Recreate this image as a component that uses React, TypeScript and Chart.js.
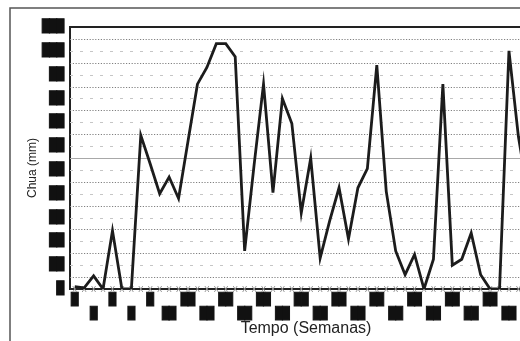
import React, { useEffect, useRef } from 'react';
import { Chart, registerables } from 'chart.js';

Chart.register(...registerables);

// Weeks (categories)
const weeks = [
  '1', '2', '3', '4', '5', '6', '7', '8', '9', '10',
  '11', '12', '13', '14', '15', '16', '17', '18', '19', '20',
  '21', '22', '23', '24', '25', '26', '27', '28', '29', '30',
  '31', '32', '33', '34', '35', '36', '37', '38', '39', '40',
  '41', '42', '43', '44', '45', '46', '47', '48', '49', '50',
];

// Rainfall (mm) per week
const rainfall = [
  1, 0.5, 5.5, 0, 24.5, 0, 0, 64.5, 52.5, 40,
  47, 38, 62, 86, 93, 103, 103, 97.5, 16, 52,
  86, 40.5, 80, 69.5, 32, 55, 13, 28.5, 42.5, 21,
  42.5, 50.5, 94, 41, 16, 6, 14.5, 0, 12.5, 86,
  10, 12.5, 23.5, 6, 0, 0, 100, 64, 40, 20,
];

// y tick values (labels are redacted as black boxes in the picture)
const yMin = 0;
const yMax = 110;
const yStep = 10;
const gridStep = 5;
const refLine = 55;

const xTitle = 'Tempo (Semanas)';
const yTitle = 'Chua (mm)';

const BLOCK = '\u2588';

const decor = {
  id: 'decor',
  beforeDatasetsDraw(chart: any) {
    const { ctx, chartArea: a, scales } = chart;
    const x = scales.x;
    const y = scales.y;
    ctx.save();
    for (let v = yMin + gridStep; v < yMax; v += gridStep) {
      const py = Math.round(y.getPixelForValue(v)) + 0.5;
      ctx.beginPath();
      if (v === refLine) {
        ctx.setLineDash([]);
        ctx.strokeStyle = '#a8a8a8';
      } else if (v % 10 === 5) {
        ctx.setLineDash([1.2, 1.6]);
        ctx.strokeStyle = '#808080';
      } else {
        ctx.setLineDash([3, 7]);
        ctx.strokeStyle = '#c6c6c6';
      }
      ctx.lineWidth = 1;
      ctx.moveTo(a.left, py);
      ctx.lineTo(a.right, py);
      ctx.stroke();
    }
    ctx.setLineDash([]);
    ctx.strokeStyle = '#9a9a9a';
    ctx.lineWidth = 1;
    for (let i = 0; i < weeks.length; i++) {
      const px = x.getPixelForValue(i);
      const py = a.bottom;
      ctx.beginPath();
      ctx.moveTo(px - 2, py - 3);
      ctx.lineTo(px + 2, py + 3);
      ctx.moveTo(px + 2, py - 3);
      ctx.lineTo(px - 2, py + 3);
      ctx.stroke();
    }
    ctx.restore();
  },
  afterDraw(chart: any) {
    const { ctx, chartArea: a, width, height } = chart;
    ctx.save();
    // top border of plot
    ctx.strokeStyle = '#222';
    ctx.lineWidth = 2;
    ctx.beginPath();
    ctx.moveTo(a.left - 1, a.top);
    ctx.lineTo(a.right, a.top);
    ctx.stroke();
    // outer frame
    ctx.strokeStyle = '#555';
    ctx.lineWidth = 1.5;
    ctx.beginPath();
    ctx.moveTo(10, height);
    ctx.lineTo(10, 8);
    ctx.lineTo(width, 8);
    ctx.stroke();
    // titles
    ctx.fillStyle = '#222';
    ctx.textAlign = 'center';
    ctx.textBaseline = 'middle';
    ctx.font = '16px "Liberation Sans", Arial, sans-serif';
    ctx.fillText(xTitle, (a.left + a.right) / 2, 329);
    ctx.translate(33, (a.top + a.bottom) / 2 + 10);
    ctx.rotate(-Math.PI / 2);
    ctx.font = '12px "Liberation Sans", Arial, sans-serif';
    ctx.fillText(yTitle, 0, 0);
    ctx.restore();
  },
};

export default function App() {
  const ref = useRef<HTMLCanvasElement | null>(null);
  useEffect(() => {
    if (!ref.current) return;
    const chart = new Chart(ref.current, {
      type: 'line',
      data: {
        labels: weeks,
        datasets: [
          {
            data: rainfall,
            borderColor: '#1c1c1c',
            borderWidth: 2.8,
            pointRadius: 0,
            tension: 0,
            fill: false,
          },
        ],
      },
      options: {
        responsive: false,
        animation: false,
        devicePixelRatio: 1,
        layout: { padding: { top: 27, left: 0, right: 0, bottom: 0 } },
        plugins: { legend: { display: false }, tooltip: { enabled: false } },
        scales: {
          x: {
            type: 'category',
            offset: true,
            grid: { display: true, color: 'rgba(0,0,0,0)', drawTicks: false, offset: true },
            border: { display: true, color: '#222', width: 2 },
            afterFit: (s: any) => { s.height = 52; },
            ticks: {
              autoSkip: false,
              maxRotation: 0,
              minRotation: 0,
              padding: 4,
              color: '#111',
              textStrokeColor: '#111',
              textStrokeWidth: 1,
              font: { family: '"DejaVu Sans Mono", monospace', size: 11.5, lineHeight: 1.22 },
              callback: (_v: any, index: number) => {
                if (index % 2 !== 0) return '';
                const box = BLOCK.repeat(weeks[index].length);
                return (index / 2) % 2 === 0 ? [box, ''] : ['', box];
              },
            },
          },
          y: {
            min: yMin,
            max: yMax,
            grid: { display: true, color: 'rgba(0,0,0,0)', drawTicks: false },
            border: { display: true, color: '#222', width: 2 },
            afterFit: (s: any) => { s.width = 70; },
            ticks: {
              stepSize: yStep,
              padding: 6,
              color: '#111',
              textStrokeColor: '#111',
              textStrokeWidth: 1,
              font: { family: '"DejaVu Sans Mono", monospace', size: 12 },
              callback: (v: any) => BLOCK.repeat(String(v).length),
            },
          },
        },
      },
      plugins: [decor],
    });
    return () => chart.destroy();
  }, []);
  return (
    <div
      style={{
        position: 'fixed',
        left: 0,
        top: 0,
        width: 520,
        height: 341,
        overflow: 'hidden',
        background: '#fff',
      }}
    >
      <canvas ref={ref} width={542} height={341} style={{ display: 'block', width: 542, height: 341 }} />
    </div>
  );
}
